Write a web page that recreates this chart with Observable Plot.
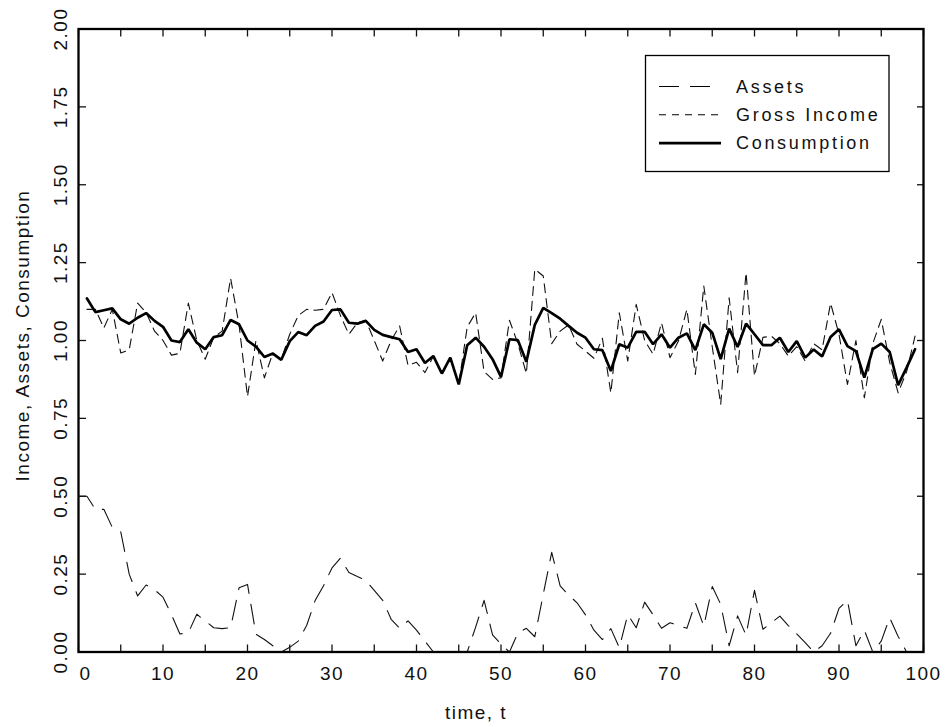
<!DOCTYPE html>
<html><head><meta charset="utf-8">
<script src="https://cdn.jsdelivr.net/npm/d3@7"></script>
<script src="https://cdn.jsdelivr.net/npm/@observablehq/plot@0.6"></script>
<style>
html,body{margin:0;padding:0;background:#fff;}
</style></head><body><div id="chart"></div>
<script>
// Assets, t = 0..99
const assets = [
  0.50, 0.50, 0.458, 0.458, 0.40, 0.386, 0.25, 0.18, 0.215, 0.20,
  0.176, 0.12, 0.058, 0.062, 0.121, 0.10, 0.078, 0.075, 0.078, 0.206,
  0.217, 0.057, 0.04, 0.02, 0.0, 0.015, 0.035, 0.085, 0.165, 0.213,
  0.27, 0.301, 0.255, 0.242, 0.23, 0.198, 0.166, 0.105, 0.076, 0.10,
  0.07, 0.035, 0.0, 0.0, 0.0, 0.0, 0.0, 0.08, 0.166, 0.055,
  0.025, 0.0, 0.061, 0.076, 0.049, 0.185, 0.32, 0.212, 0.183, 0.158,
  0.119, 0.07, 0.04, 0.075, 0.014, 0.12, 0.078, 0.16, 0.119, 0.076,
  0.094, 0.085, 0.076, 0.158, 0.083, 0.21, 0.153, 0.02, 0.116, 0.054,
  0.198, 0.073, 0.094, 0.115, 0.085, 0.058, 0.03, 0.0, 0.02, 0.06,
  0.14, 0.166, 0.02, 0.07, 0.0, 0.035, 0.11, 0.05, 0.0, 0.0
];
// Gross income, t = 1..99
const income = [
  1.10, 1.10, 1.04, 1.10, 0.96, 0.97, 1.12, 1.09, 1.03, 1.00,
  0.953, 0.959, 1.12, 1.00, 0.94, 1.01, 1.03, 1.20, 1.05, 0.82,
  1.00, 0.88, 0.96, 0.94, 1.02, 1.08, 1.10, 1.097, 1.10, 1.154,
  1.08, 1.02, 1.057, 1.065, 1.00, 0.934, 1.00, 1.047, 0.92, 0.93,
  0.897, 0.95, 0.89, 0.945, 0.86, 1.043, 1.089, 0.90, 0.875, 0.88,
  1.065, 0.99, 0.894, 1.229, 1.207, 0.99, 1.03, 1.05, 0.988, 0.966,
  0.943, 1.007, 0.832, 1.089, 0.934, 1.116, 1.00, 0.956, 1.057, 0.945,
  0.998, 1.100, 0.891, 1.175, 0.98, 0.795, 1.137, 0.897, 1.218, 0.886,
  1.01, 1.014, 0.99, 0.95, 0.98, 0.934, 0.99, 0.97, 1.12, 1.02,
  0.859, 1.00, 0.816, 0.99, 1.068, 0.93, 0.832, 0.90, 1.014
];
// Consumption, t = 1..99
const consumption = [
  1.135, 1.091, 1.097, 1.103, 1.068, 1.054, 1.073, 1.088, 1.063, 1.044,
  1.000, 0.995, 1.036, 0.993, 0.972, 1.011, 1.017, 1.066, 1.052, 1.000,
  0.980, 0.947, 0.958, 0.938, 0.998, 1.027, 1.017, 1.047, 1.061, 1.098,
  1.100, 1.057, 1.054, 1.063, 1.034, 1.018, 1.011, 1.004, 0.963, 0.972,
  0.928, 0.950, 0.894, 0.945, 0.859, 0.985, 1.009, 0.980, 0.940, 0.883,
  1.004, 1.001, 0.932, 1.050, 1.105, 1.088, 1.070, 1.047, 1.025, 1.009,
  0.972, 0.969, 0.902, 0.988, 0.977, 1.028, 1.028, 0.988, 1.020, 0.977,
  1.009, 1.023, 0.969, 1.052, 1.025, 0.940, 1.038, 0.979, 1.054, 1.020,
  0.985, 0.985, 1.009, 0.963, 0.998, 0.945, 0.971, 0.949, 1.011, 1.036,
  0.982, 0.966, 0.881, 0.972, 0.990, 0.963, 0.857, 0.913, 0.972
];
const assetsStart = 0;
const flowStart = 1;
const xTickLabels = [0, 10, 20, 30, 40, 50, 60, 70, 80, 90, 100];
const xTickMarks = [0, 5, 10, 15, 20, 25, 30, 35, 40, 45, 50, 55, 60, 65, 70, 75, 80, 85, 90, 95, 100];
const yTickLabels = [0, 0.25, 0.5, 0.75, 1.0, 1.25, 1.5, 1.75, 2.0];
const seriesNames = ["Assets", "Gross Income", "Consumption"];
const xTitle = "time, t";
const yTitle = "Income, Assets, Consumption";

const assetRows = assets.map((v, i) => ({t: assetsStart + i, v}));
const incomeRows = income.map((v, i) => ({t: flowStart + i, v}));
const consRows = consumption.map((v, i) => ({t: flowStart + i, v}));

const FONT = "'Liberation Sans', Arial, sans-serif";
const dashA = "20,11";
const dashI = "9,6";

const chart = Plot.plot({
  width: 946,
  height: 727,
  marginLeft: 78,
  marginRight: 23,
  marginTop: 28.5,
  marginBottom: 75.5,
  x: {domain: [0, 100]},
  y: {domain: [0, 2]},
  style: {fontFamily: FONT, fontSize: "19px", color: "#111", background: "#fff", letterSpacing: "1.5px"},
  marks: [
    Plot.line(assetRows, {x: "t", y: "v", stroke: "#111", strokeWidth: 1.1, strokeDasharray: dashA}),
    Plot.line(incomeRows, {x: "t", y: "v", stroke: "#111", strokeWidth: 1.1, strokeDasharray: dashI}),
    Plot.line(consRows, {x: "t", y: "v", stroke: "#000", strokeWidth: 2.7, strokeLinejoin: "miter"}),
    Plot.axisX({anchor: "bottom", ticks: xTickMarks, tickSize: -7, strokeWidth: 1.3, fill: "none", label: null}),
    Plot.axisX({anchor: "top", ticks: xTickMarks, tickSize: -7, strokeWidth: 1.3, fill: "none", label: null}),
    Plot.axisY({anchor: "left", ticks: yTickLabels, tickSize: -8, strokeWidth: 1.3, fill: "none", label: null}),
    Plot.axisY({anchor: "right", ticks: yTickLabels, tickSize: -7, strokeWidth: 1.3, fill: "none", label: null}),
    Plot.frame({stroke: "#000", strokeWidth: 2.3}),
    Plot.text(xTickLabels.slice(1), {x: d => d, frameAnchor: "bottom", dy: 22, text: d => String(d), fill: "#111", lineAnchor: "middle"}),
    Plot.text(xTickLabels.slice(0, 1), {x: d => d, frameAnchor: "bottom", dy: 22, dx: 7, text: d => String(d), fill: "#111", lineAnchor: "middle"}),
    Plot.text(yTickLabels, {y: d => d, frameAnchor: "left", dx: -18, rotate: -90, text: d => d.toFixed(2), fill: "#111", lineAnchor: "middle", textAnchor: "middle"}),
    Plot.text([xTitle], {frameAnchor: "bottom", dy: 61, dx: -25, text: d => d, fill: "#111", lineAnchor: "middle"}),
    Plot.text([yTitle], {frameAnchor: "left", dx: -56, dy: -5, rotate: -90, text: d => d, fill: "#111", lineAnchor: "middle", textAnchor: "middle"})
  ]
});

// Legend box (inside the plot frame, top right)
const svg = d3.select(chart);
const lg = svg.append("g").attr("font-family", FONT).attr("font-size", 18)
  .attr("letter-spacing", "2.7px").attr("fill", "#111").attr("text-anchor", "start");
lg.append("rect").attr("x", 645.5).attr("y", 55.5).attr("width", 243.5).attr("height", 116)
  .attr("fill", "#fff").attr("stroke", "#000").attr("stroke-width", 1.3);
const styles = [
  {dash: dashA, w: 1.1},
  {dash: "7,6", w: 1.1},
  {dash: null, w: 2.7}
];
seriesNames.forEach((name, i) => {
  const y = 86.5 + i * 28.3;
  const ln = lg.append("line").attr("x1", 659).attr("x2", 721).attr("y1", y).attr("y2", y)
    .attr("stroke", "#000").attr("stroke-width", styles[i].w);
  if (styles[i].dash) ln.attr("stroke-dasharray", styles[i].dash);
  lg.append("text").attr("x", 736).attr("y", y).attr("dy", "0.35em")
    .attr("text-anchor", "start").text(name);
});

document.getElementById("chart").appendChild(chart);
</script>
</body></html>
